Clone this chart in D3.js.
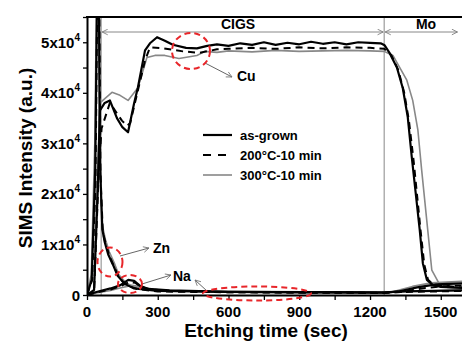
<!DOCTYPE html>
<html>
<head>
<meta charset="utf-8">
<script src="https://cdn.jsdelivr.net/npm/d3@7"></script>
<style>
  body { margin: 0; background: #fff; }
  text { font-family: Arial, "Liberation Sans", sans-serif; font-weight: bold; }
</style>
</head>
<body>
<div id="chart"></div>
<script>
// layer boundaries (sec)
const layers = [["CIGS", 60, 1260], ["Mo", 1260, 1575]];
const xTicks = [0, 300, 600, 900, 1200, 1500];
const yTicks = [0, 1, 2, 3, 4, 5]; // x10^4
const samples = ["as-grown", "200°C-10 min", "300°C-10 min"];

// [time (sec), intensity]
const cuAsGrown = [[0,0],[30,1000],[45,20000],[55,36500],[75,38000],[97,38500],[127,35000],[150,33200],[174,32200],[200,38000],[216,41100],[246,48400],[267,49800],[297,51000],[330,50300],[364,49500],[420,48900],[466,48800],[510,49300],[551,49600],[600,49300],[650,49800],[700,49500],[750,50000],[800,49500],[850,49900],[900,49600],[950,50100],[1000,49700],[1050,50000],[1100,49600],[1150,50000],[1200,49900],[1245,49800],[1262,49400],[1284,47800],[1314,45000],[1339,40900],[1360,35200],[1377,27300],[1411,12800],[1424,6300],[1441,3000],[1466,2000],[1500,1600],[1590,1400]];
const cu200 = [[0,0],[30,500],[42,15000],[50,25000],[62,33000],[97,38000],[148,34500],[170,33500],[183,34000],[216,40500],[246,46400],[267,49000],[323,48800],[407,48200],[475,47900],[551,48600],[600,48700],[700,48900],[800,48700],[900,49000],[1000,48800],[1100,49000],[1200,48900],[1260,48700],[1290,47500],[1320,44500],[1345,40000],[1365,34500],[1385,26500],[1415,12500],[1430,6000],[1446,3000],[1470,2000],[1590,1500]];
const cu300 = [[0,0],[30,800],[45,25000],[55,38000],[106,40100],[140,39500],[174,38500],[216,41000],[254,47000],[288,47400],[330,47400],[390,46800],[466,47400],[500,48200],[551,48000],[600,48300],[700,48100],[800,48400],[900,48200],[1000,48300],[1100,48400],[1200,48300],[1260,48200],[1297,47400],[1356,42500],[1381,38500],[1403,32600],[1419,24700],[1462,4900],[1496,2000],[1530,1500],[1590,1300]];

const znAsGrown = [[0,0],[20,3000],[35,25000],[44,65000],[50,65000],[55,26000],[65,13000],[75,10500],[90,8000],[110,6000],[130,3800],[160,2200],[200,1300],[300,800],[600,600],[1260,500],[1350,700],[1590,900]];
const zn200 = [[0,0],[22,3000],[36,22000],[45,65000],[51,65000],[57,24000],[67,12500],[80,10000],[95,7800],[115,5600],[135,3500],[165,2000],[210,1200],[300,700],[600,550],[1260,450],[1350,600],[1590,800]];
const zn300 = [[0,0],[18,4000],[33,30000],[42,65000],[49,65000],[54,28000],[64,14000],[78,11000],[95,8500],[115,6400],[135,4000],[165,2400],[210,1400],[300,900],[600,650],[1260,550],[1350,700],[1590,1000]];

const naAsGrown = [[0,0],[40,600],[100,1300],[140,1900],[175,3000],[200,2800],[225,1800],[260,1200],[350,900],[600,600],[1000,500],[1260,450],[1320,700],[1400,1500],[1480,2100],[1590,2300]];
const na200 = [[0,0],[40,500],[100,1100],[140,1700],[180,2600],[205,2400],[230,1600],[270,1100],[350,800],[600,550],[1000,450],[1260,400],[1330,600],[1420,1300],[1500,1700],[1590,1900]];
const na300 = [[0,0],[40,400],[100,900],[140,1400],[190,1900],[220,1700],[250,1300],[300,1000],[400,800],[600,600],[1000,500],[1260,450],[1300,700],[1380,1700],[1460,2400],[1590,2700]];

const margin = {top: 17, right: 0, bottom: 47, left: 87},
  W = 462, H = 342,
  width = W - margin.left - margin.right,
  height = H - margin.top - margin.bottom;

const svg = d3.select("#chart").append("svg")
  .attr("width", W).attr("height", H);
const g = svg.append("g").attr("transform", `translate(${margin.left},${margin.top})`);

const x = d3.scaleLinear().domain([0, 1590]).range([0, width]);
const y = d3.scaleLinear().domain([0, 55000]).range([height, 0]);

svg.append("defs").append("clipPath").attr("id", "clip")
  .append("rect").attr("width", width).attr("height", height);
const marker = svg.select("defs").append("marker")
  .attr("id", "arr").attr("viewBox", "0 0 10 10").attr("refX", 9).attr("refY", 5)
  .attr("markerWidth", 7).attr("markerHeight", 7).attr("orient", "auto-start-reverse")
  .attr("markerUnits", "userSpaceOnUse");
marker.append("path").attr("d", "M1,1 L9,5 L1,9").attr("fill", "none").attr("stroke", "#777").attr("stroke-width", 1.2);

// layer boundary lines
g.selectAll(".bound").data([layers[0][1], layers[0][2]]).join("line")
  .attr("x1", d => x(d)).attr("x2", d => x(d)).attr("y1", 0).attr("y2", height)
  .attr("stroke", "#888").attr("stroke-width", 1);

// layer arrows + labels
layers.forEach(([name, a, b]) => {
  g.append("line").attr("x1", x(a) + 1).attr("x2", x(b) - 1).attr("y1", 15).attr("y2", 15)
    .attr("stroke", "#888").attr("stroke-width", 1)
    .attr("marker-start", "url(#arr)").attr("marker-end", "url(#arr)");
});
g.append("text").attr("x", 151).attr("y", 12).attr("text-anchor", "middle")
  .attr("font-size", 14).text(layers[0][0]);
g.append("text").attr("x", 339).attr("y", 12).attr("text-anchor", "middle")
  .attr("font-size", 14).text(layers[1][0]);

// series
const styles = [
  {stroke: "#000", w: 2.2, dash: null},
  {stroke: "#000", w: 2, dash: "7,5"},
  {stroke: "#888", w: 1.6, dash: null}
];
const line = d3.line().x(d => x(d[0])).y(d => y(d[1]));
const plot = g.append("g").attr("clip-path", "url(#clip)");
const groups = [[cu300, zn300, na300], [cu200, zn200, na200], [cuAsGrown, znAsGrown, naAsGrown]];
const styleIdx = [2, 1, 0];
groups.forEach((set, i) => {
  const s = styles[styleIdx[i]];
  set.forEach(data => {
    plot.append("path").datum(data).attr("d", line)
      .attr("fill", "none").attr("stroke", s.stroke).attr("stroke-width", s.w)
      .attr("stroke-dasharray", s.dash).attr("stroke-linejoin", "round");
  });
});

// axes
const yAxis = g.append("g")
  .call(d3.axisLeft(y).tickValues(d3.range(0, 55001, 5000)).tickSize(4).tickSizeOuter(0).tickFormat(""));
const xAxis = g.append("g").attr("transform", `translate(0,${height})`)
  .call(d3.axisBottom(x).tickValues(d3.range(0, 1591, 150)).tickSize(5).tickSizeOuter(0).tickFormat(""));
[yAxis, xAxis].forEach(a => {
  a.select(".domain").attr("stroke-width", 2);
  a.selectAll(".tick line").attr("stroke-width", 1.3);
});
g.append("line").attr("x1", -1).attr("x2", width).attr("y1", 0).attr("y2", 0)
  .attr("stroke", "#000").attr("stroke-width", 2);

yTicks.forEach(v => {
  const t = g.append("text").attr("x", -7).attr("y", y(v * 10000) + 5.5)
    .attr("text-anchor", "end").attr("font-size", 15);
  if (v === 0) { t.text("0"); return; }
  t.append("tspan").text(v + "x10");
  t.append("tspan").attr("dy", -7).attr("font-size", 10).text("4");
});
xTicks.forEach(v => {
  g.append("text").attr("x", x(v)).attr("y", height + 22).attr("text-anchor", "middle")
    .attr("font-size", 15).text(v);
});

// axis titles
svg.append("text").attr("x", 266).attr("y", 337).attr("text-anchor", "middle")
  .attr("font-size", 19).text("Etching time (sec)");
svg.append("text").attr("transform", "translate(32,158) rotate(-90)").attr("text-anchor", "middle")
  .attr("font-size", 19).text("SIMS Intensity (a.u.)");

// legend
const leg = svg.append("g").attr("transform", "translate(203,135)");
samples.forEach((name, i) => {
  const s = styles[i];
  leg.append("line").attr("x1", 0).attr("x2", 29).attr("y1", i * 20).attr("y2", i * 20)
    .attr("stroke", s.stroke).attr("stroke-width", s.w).attr("stroke-dasharray", i === 1 ? "8,7" : null);
  leg.append("text").attr("x", 37).attr("y", i * 20 + 4.5).attr("font-size", 13).text(name);
});

// annotations
const arrowLines = [[205, 63, 232, 77], [120, 256, 149, 248], [142, 284, 171, 275], [207, 291, 195, 280]];
arrowLines.forEach(([x1, y1, x2, y2]) => {
  svg.append("line").attr("x1", x1).attr("y1", y1).attr("x2", x2).attr("y2", y2)
    .attr("stroke", "#666").attr("stroke-width", 1).attr("marker-end", "url(#arr)");
});
[["Cu", 237, 81], ["Zn", 153, 253], ["Na", 173, 281]].forEach(([t, tx, ty]) => {
  svg.append("text").attr("x", tx).attr("y", ty).attr("font-size", 14).text(t);
});
[[191, 51, 19, 18], [110, 262, 12.5, 14.5], [130, 284, 12, 9], [257, 293.5, 54, 7]].forEach(([cx, cy, rx, ry]) => {
  svg.append("ellipse").attr("cx", cx).attr("cy", cy).attr("rx", rx).attr("ry", ry)
    .attr("fill", "none").attr("stroke", "#e8262a").attr("stroke-width", 2).attr("stroke-dasharray", "6,4");
});
</script>
</body>
</html>
